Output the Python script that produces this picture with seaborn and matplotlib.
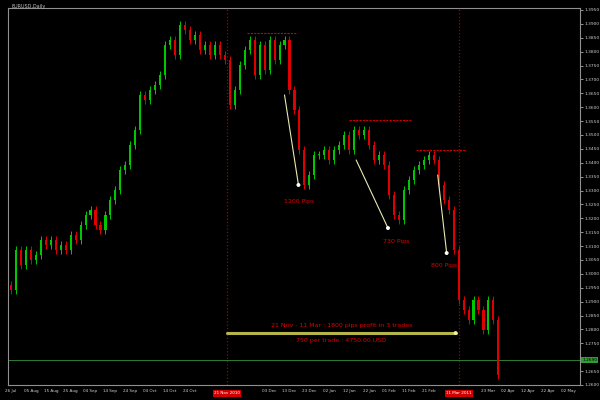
import numpy as np
import pandas as pd
import seaborn as sns
import matplotlib.pyplot as plt
from matplotlib.ticker import MultipleLocator, FuncFormatter

# Close prices, one per candle (open = previous close)
closes = [
    1.2942, 1.3086, 1.3032, 1.3086, 1.3050, 1.3068, 1.3122, 1.3104, 1.3122, 1.3086,
    1.3104, 1.3086, 1.3140, 1.3122, 1.3176, 1.3212, 1.3230, 1.3176, 1.3158, 1.3212,
    1.3266, 1.3302, 1.3374, 1.3392, 1.3464, 1.3518, 1.3644, 1.3626, 1.3662, 1.3680,
    1.3716, 1.3824, 1.3842, 1.3788, 1.3896, 1.3878, 1.3842, 1.3860, 1.3806, 1.3824,
    1.3788, 1.3824, 1.3788, 1.3770, 1.3608, 1.3662, 1.3752, 1.3806, 1.3842, 1.3716,
    1.3824, 1.3734, 1.3842, 1.3770, 1.3824, 1.3842, 1.3662, 1.3590, 1.3446, 1.3320,
    1.3356, 1.3428, 1.3428, 1.3446, 1.3410, 1.3446, 1.3464, 1.3500, 1.3446, 1.3518,
    1.3500, 1.3518, 1.3464, 1.3410, 1.3428, 1.3392, 1.3284, 1.3212, 1.3194, 1.3302,
    1.3338, 1.3374, 1.3392, 1.3410, 1.3428, 1.3410, 1.3320, 1.3266, 1.3230, 1.3086,
    1.2906, 1.2870, 1.2834, 1.2906, 1.2870, 1.2798, 1.2906, 1.2834, 1.2636,
]
first_open = 1.2960
wick = 0.0014

# levels / annotations
top_levels = [(47.4, 57.4, 1.3867), (68.0, 80.4, 1.3554), (81.4, 91.4, 1.3446)]
arrows = [((55.0, 1.3644), (57.8, 1.3320)),
          ((69.4, 1.3410), (75.8, 1.3165)),
          ((85.8, 1.3356), (87.6, 1.3075))]
pip_labels = ["1200 Pips", "730 Pips", "800 Pips"]
pip_pos = [(58.0, 1.3262), (77.4, 1.3118), (87.0, 1.3030)]
vlines_idx = [43.4, 90.0]
vline_dates = ["21 Nov 2010", "11 Mar 2011"]
bid_price = 1.2690
profit_level = 1.2787
summary_lines = ["21 Nov - 11 Mar : 1800 pips profit in 3 trades",
                 "750 per trade : 4750.00 USD"]

tick_dates = [d.strftime("%d %b") for d in pd.date_range("2010-07-26", periods=29, freq="10D")]

sns.set_style("dark", {"axes.facecolor": "black", "figure.facecolor": "black",
                       "axes.edgecolor": "#909090", "grid.color": "black"})
plt.rcParams['font.family'] = ['DejaVu Sans']

fig = plt.figure(figsize=(6, 4), dpi=100)
ax = fig.add_axes([0.0133, 0.0375, 0.9533, 0.9425])

c = np.array(closes)
o = np.concatenate([[first_open], c[:-1]])
idx = np.arange(len(c))
up = c >= o
hi = np.maximum(o, c) + wick
lo = np.minimum(o, c) - wick
colors = np.where(up, "#00c800", "#e00000")

ax.vlines(idx, lo, hi, colors=colors, linewidth=0.7, zorder=3)
body = np.maximum(np.abs(c - o), 0.0004)
ax.bar(idx, body, bottom=np.minimum(o, c), width=0.42, color=colors, linewidth=0, zorder=4)

# vertical separators
for x in vlines_idx:
    ax.axvline(x, color="#a00000", linestyle=":", linewidth=0.9, zorder=2)

# bid line
ax.axhline(bid_price, color="#2e7d32", linewidth=0.7, zorder=2)

# profit span
ax.plot([vlines_idx[0], vlines_idx[1] - 0.6], [profit_level, profit_level],
        color="#b5b54a", linewidth=2.2, zorder=5)
sns.scatterplot(x=[vlines_idx[1] - 0.6], y=[profit_level], color="#f0f0a0", s=8,
                edgecolor="none", ax=ax, zorder=6)

# levels over tops
for x0, x1, y in top_levels:
    ax.plot([x0, x1], [y, y], color="#d00000", linestyle=(0, (2, 1)), linewidth=0.8, zorder=5)

# arrows
ends_x, ends_y = [], []
for (x0, y0), (x1, y1) in arrows:
    ax.plot([x0, x1], [y0, y1], color="#e8e8b0", linewidth=0.8, zorder=6)
    ends_x.append(x1)
    ends_y.append(y1)
sns.scatterplot(x=ends_x, y=ends_y, color="white", s=8, edgecolor="none", ax=ax, zorder=7)

for txt, (x, y) in zip(pip_labels, pip_pos):
    ax.text(x, y, txt, color="#e00000", fontsize=4.5, ha="center", va="center", zorder=7)

for i, txt in enumerate(summary_lines):
    ax.text(66.4, 1.2814 - i * 0.0054, txt, color="#e00000", fontsize=4.5,
            ha="center", va="center", zorder=7)

ax.set_xlim(-0.6, 114.4)
ax.set_ylim(1.2600, 1.3957)


def price_fmt(v, pos):
    # leave room for the bid box
    if abs(v - bid_price) < 0.003:
        return ""
    return f"{v:.4f}"


# right price axis
ax.yaxis.tick_right()
ax.yaxis.set_major_locator(MultipleLocator(0.005))
ax.yaxis.set_major_formatter(FuncFormatter(price_fmt))
ax.tick_params(axis="y", colors="#d0d0d0", labelsize=3.2, length=2, width=0.5, pad=1)
ax.text(1.004, (bid_price - 1.26) / (1.3957 - 1.26), f"{bid_price:.4f}",
        transform=ax.transAxes, fontsize=3.2, color="black", va="center", ha="left",
        bbox=dict(boxstyle="square,pad=0.2", fc="#2e9d32", ec="none"))

# bottom date axis, skipping ticks hidden by the separator labels
tick_pos = np.arange(0, 4 * len(tick_dates), 4)
labels = [d if min(abs(p - x) for x in vlines_idx) > 5 else "" for p, d in zip(tick_pos, tick_dates)]
ax.set_xticks(tick_pos)
ax.set_xticklabels(labels)
ax.tick_params(axis="x", colors="#d0d0d0", labelsize=3.0, length=2, width=0.5, pad=1)
for x, d in zip(vlines_idx, vline_dates):
    ax.text(x, -0.022, d, transform=ax.get_xaxis_transform(), fontsize=3.0,
            color="white", ha="center", va="center",
            bbox=dict(boxstyle="square,pad=0.3", fc="#d00000", ec="none"), zorder=8)

for s in ax.spines.values():
    s.set_color("#909090")
    s.set_linewidth(0.8)

fig.text(0.02, 0.99, "EURUSD,Daily", color="#c0c0c0", fontsize=3.5, va="top")
fig.patch.set_facecolor("black")

fig.savefig("out.png", dpi=100, facecolor="black")
